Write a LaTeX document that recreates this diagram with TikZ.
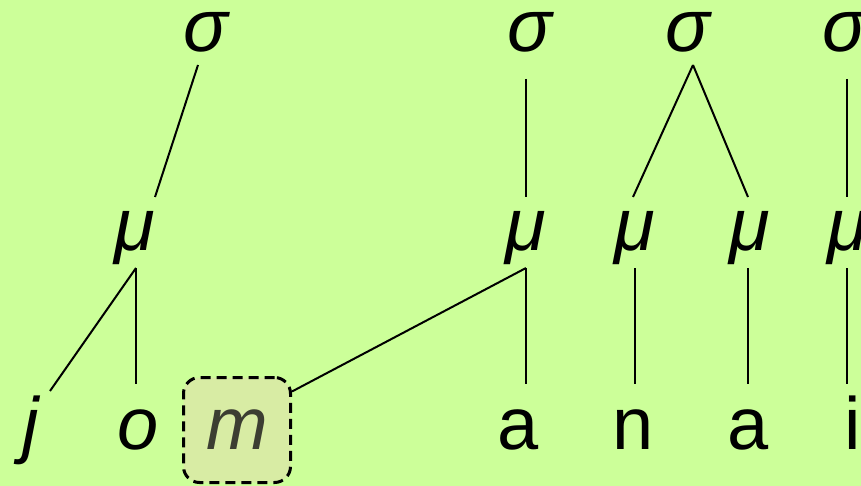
\documentclass[tikz,border=0pt]{standalone}
\usepackage{fontspec}
\setmainfont{Liberation Sans}
\usetikzlibrary{patterns}

\tikzset{every picture/.style={line width=1pt}}
\tikzset{
	tier/.style={anchor=base, inner sep=0pt, font=\fontsize{37}{37}\selectfont},
	syl/.style={tier, font=\fontsize{37}{37}\selectfont\itshape, text depth=7pt},
	mora/.style={tier, font=\fontsize{37}{37}\selectfont\itshape, text height=26pt, text depth=8.5pt},
	seg/.style={tier, text height=32pt},
	extra/.style={draw, dashed, dash pattern=on 5pt off 3pt, line width=1.5pt, rounded corners=8pt,
		fill={rgb, 255:red, 216; green, 236; blue, 164}, minimum width=53.5pt, minimum height=52.5pt,
		inner sep=0pt, font=\fontsize{37}{37}\selectfont\itshape, text={rgb, 255:red, 60; green, 62; blue, 50}}
}

\begin{document}
\begin{tikzpicture}[x=0.5pt,y=0.5pt,yscale=-1]
	% background
	\fill [color={rgb, 255:red, 204; green, 255; blue, 153 }] (0,0) rectangle (861,486) ;
	\useasboundingbox (0,0) rectangle (861,486) ;
	
	% Syllables
	\node [syl] (s1) at (206,52) {σ};
	\node [syl] (s2) at (530,52) {σ};
	\node [syl] (s3) at (688,52) {σ};
	\node [syl] (s4) at (845,52) {σ};
	
	% Moras
	\node [mora] (m1) at (135,250) {μ};
	\node [mora] (m2) at (526,250) {μ};
	\node [mora] (m3) at (635,250) {μ};
	\node [mora] (m4) at (750,250) {μ};
	\node [mora] (m5) at (848,250) {μ};
	
	% Segments
	\node [seg, font=\fontsize{37}{37}\selectfont\itshape] (j) at (31,449) {j};
	\node [seg, font=\fontsize{37}{37}\selectfont\itshape] (o) at (138,449) {o};
	\node [extra] (mm) at (237,430) {m};
	\node [seg] (a1) at (518,449) {a};
	\node [seg] (n) at (633,449) {n};
	\node [seg] (a2) at (748,449) {a};
	\node [seg] (i) at (853,449) {i};
	
	% Association lines
	\draw ([xshift=-4pt,yshift=-1pt]s1.south) -- ([xshift=10pt]m1.north) ;
	\draw [shorten <=6pt] ([xshift=-2pt]s2.south) -- (m2.north) ;
	\draw ([xshift=2.5pt,yshift=-1pt]s3.south) -- ([xshift=-1pt]m3.north) ;
	\draw ([xshift=2.5pt,yshift=-1pt]s3.south) -- ([xshift=-1pt]m4.north) ;
	\draw [shorten <=6pt] ([xshift=1pt]s4.south) -- ([xshift=-0.5pt]m5.north) ;
	
	\draw ([xshift=0.5pt]m1.south) -- ([xshift=9.5pt,yshift=3.5pt]j.north) ;
	\draw ([xshift=0.5pt]m1.south) -- ([xshift=0.5pt]m1.south |- o.north) ;
	\draw (m2.south) -- (m2.south |- a1.north) ;
	\draw (m2.south) -- (mm.35) ;
	\draw (m3.south) -- (m3.south |- n.north) ;
	\draw ([xshift=-1pt]m4.south) -- ([xshift=-1pt]m4.south |- a2.north) ;
	\draw ([xshift=-0.5pt]m5.south) -- ([xshift=-0.5pt]m5.south |- i.north) ;
	
\end{tikzpicture}
\end{document}
